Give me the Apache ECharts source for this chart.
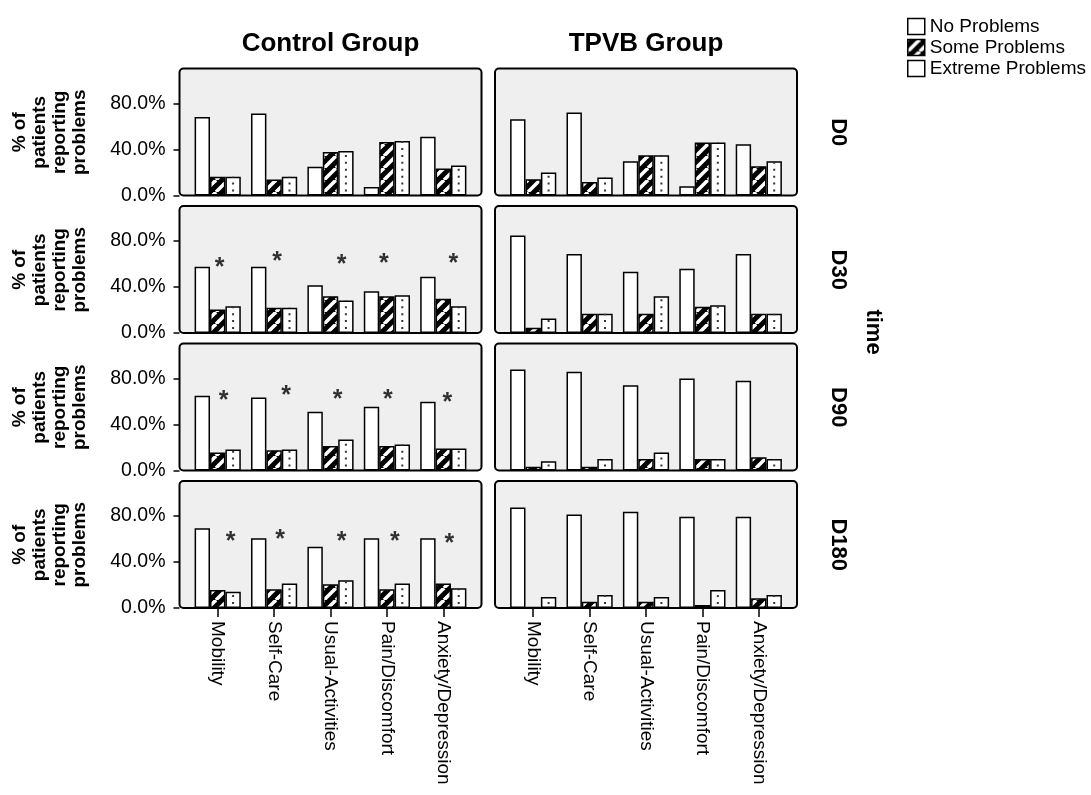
<!DOCTYPE html>
<html lang="en">
<head>
    <meta charset="utf-8" />
    <title>EQ-5D problems by group</title>
    <script type="text/javascript" src="https://cdn.jsdelivr.net/npm/echarts@6/dist/echarts.min.js"></script>
</head>
<body style="margin:0;background-color:#fff">
    <div id="container" style="width:1091px;height:795px;"></div>
</body>
</html>
<script type="text/javascript">
    var dom = document.getElementById("container");
    var myChart = echarts.init(dom);
    var option = null;

    var categories = ['Mobility', 'Self-Care', 'Usual-Activities', 'Pain/Discomfort', 'Anxiety/Depression'];
    var timePoints = ['D0', 'D30', 'D90', 'D180'];
    var groups = ['Control Group', 'TPVB Group'];
    var levels = ['No Problems', 'Some Problems', 'Extreme Problems'];
    var yTicks = [0, 40, 80];

    // one row per time point (D0, D30, D90, D180), % of patients
    var controlNo = [
        [68.3, 71.3, 24.9, 7.5, 51.0],
        [57.6, 57.6, 41.6, 36.4, 48.9],
        [64.9, 63.5, 51.0, 55.4, 59.7],
        [69.3, 60.6, 53.3, 60.6, 60.6]
    ];
    var controlSome = [
        [16.2, 13.9, 37.9, 46.6, 23.5],
        [20.4, 21.9, 32.0, 32.0, 29.7],
        [15.7, 17.7, 21.2, 21.2, 19.1],
        [15.7, 16.2, 20.6, 16.2, 21.2]
    ];
    var controlExtreme = [
        [16.2, 16.2, 38.8, 47.5, 26.0],
        [23.3, 21.9, 28.3, 32.9, 23.3],
        [18.3, 18.3, 27.0, 22.6, 19.1],
        [14.2, 21.2, 24.1, 21.2, 17.1]
    ];
    var tpvbNo = [
        [66.3, 72.2, 29.8, 8.0, 44.6],
        [84.8, 68.8, 53.2, 55.8, 68.8],
        [87.8, 85.8, 74.2, 80.0, 78.0],
        [87.5, 81.4, 83.8, 79.4, 79.4]
    ];
    var tpvbSome = [
        [14.2, 11.8, 35.0, 46.0, 25.5],
        [4.5, 16.7, 16.7, 22.8, 16.7],
        [3.2, 3.2, 9.9, 9.9, 11.6],
        [0.8, 5.5, 5.5, 2.6, 8.4]
    ];
    var tpvbExtreme = [
        [20.0, 15.6, 35.0, 46.0, 29.8],
        [12.6, 16.7, 32.0, 24.2, 16.7],
        [8.1, 9.9, 15.7, 9.9, 9.9],
        [9.6, 11.3, 9.6, 15.7, 11.3]
    ];
    // significance stars (control group only), height in %
    var starHeight = [
        null,
        [62, 67, 64, 65, 65],
        [65.5, 70, 66, 66, 63.5],
        [62.6, 64, 62.6, 62.6, 61]
    ];

    // layout
    var FONT = '"Liberation Sans", Arial, sans-serif';
    var frameLeft = [179.5, 495], frameWidth = 302, inset = 10;
    var zeroY = [195.5, 333, 470.5, 608], plotHeight = 126.5, frameHeight = 127;
    var barW = 15.4;
    var starShift = [null, [2, 3, 11, -3, 10], [6, 12, 7, 1, 4], [13, 6, 11, 8, 6]];

    // diagonal white stripes on black
    function hatchPattern() {
        var c = document.createElement('canvas');
        c.width = 12; c.height = 12;
        var g = c.getContext('2d');
        g.fillStyle = '#000';
        g.fillRect(0, 0, 12, 12);
        g.strokeStyle = '#fff';
        g.lineWidth = 3.5;
        [-12, 0, 12].forEach(function (o) {
            g.beginPath();
            g.moveTo(o, 12);
            g.lineTo(o + 12, 0);
            g.stroke();
        });
        return c;
    }
    var hatch = { image: hatchPattern(), repeat: 'repeat' };

    var grids = [], xAxes = [], yAxes = [], series = [], graphics = [];
    var dataSets = [[controlNo, controlSome, controlExtreme], [tpvbNo, tpvbSome, tpvbExtreme]];

    timePoints.forEach(function (tp, r) {
        groups.forEach(function (gName, c) {
            var i = grids.length;
            var last = r === timePoints.length - 1;
            grids.push({
                left: frameLeft[c] + inset,
                width: frameWidth - 2 * inset,
                top: zeroY[r] - plotHeight,
                height: plotHeight
            });
            graphics.push({
                type: 'rect', z: 0, silent: true,
                shape: { x: frameLeft[c], y: zeroY[r] - frameHeight, width: frameWidth, height: frameHeight, r: 4 },
                style: { fill: '#efefef', stroke: '#000', lineWidth: 2 }
            });
            xAxes.push({
                type: 'category', gridIndex: i, data: categories,
                axisLine: { show: false },
                axisTick: { show: last, alignWithLabel: true, length: 9, lineStyle: { color: '#000', width: 1.5 } },
                axisLabel: { show: last, rotate: -90, margin: 13, fontSize: 19, color: '#000', fontFamily: FONT, interval: 0 },
                splitLine: { show: false }
            });
            yAxes.push({
                type: 'value', gridIndex: i, min: 0, max: 110,
                offset: inset,
                axisLine: { show: false },
                axisTick: { show: c === 0, length: 6, customValues: yTicks, lineStyle: { color: '#000', width: 1.5 } },
                axisLabel: {
                    show: c === 0, customValues: yTicks, margin: 14, fontSize: 19.5, color: '#000', fontFamily: FONT,
                    formatter: function (v) { return v.toFixed(1) + '%'; }
                },
                splitLine: { show: false }
            });
            var sets = dataSets[c];
            var fills = ['#fff', hatch, '#fff'];
            levels.forEach(function (lv, k) {
                series.push({
                    name: lv, type: 'bar', xAxisIndex: i, yAxisIndex: i,
                    data: sets[k][r], barWidth: barW, barGap: '0%',
                    itemStyle: { color: fills[k], borderColor: '#000', borderWidth: 1.5 },
                    silent: true
                });
            });
            // dotted fill of the extreme bars
            series.push({
                name: 'dots', type: 'pictorialBar', xAxisIndex: i, yAxisIndex: i,
                data: sets[2][r], barWidth: barW,
                symbol: 'rect', symbolSize: [2, 2], symbolRepeat: true, symbolMargin: 2.5, symbolClip: true,
                symbolOffset: [barW, -4], symbolPosition: 'start',
                itemStyle: { color: '#333' }, z: 3, silent: true
            });
            if (c === 0 && starHeight[r]) {
                series.push({
                    name: 'stars', type: 'scatter', xAxisIndex: i, yAxisIndex: i,
                    symbolSize: 0, silent: true, z: 4,
                    data: starHeight[r].map(function (h, k) {
                        return { value: [k, h], label: { offset: [starShift[r][k], 6] } };
                    }),
                    label: { show: true, position: 'inside', formatter: '*', fontSize: 25, fontWeight: 'bold', color: '#000', fontFamily: FONT }
                });
            }
            if (c === 0) {
                graphics.push({
                    type: 'text', x: 50, y: zeroY[r] - plotHeight / 2, rotation: Math.PI / 2,
                    style: {
                        text: '% of\npatients\nreporting\nproblems', fontSize: 19, fontWeight: 'bold', lineHeight: 20,
                        fontFamily: FONT, fill: '#000', align: 'center', verticalAlign: 'middle'
                    }
                });
            }
        });
        graphics.push({
            type: 'text', x: 838, y: zeroY[r] - plotHeight / 2, rotation: -Math.PI / 2,
            style: { text: tp, fontSize: 22, fontWeight: 'bold', fontFamily: FONT, fill: '#000', align: 'center', verticalAlign: 'middle' }
        });
    });

    groups.forEach(function (gName, c) {
        graphics.push({
            type: 'text', x: frameLeft[c] + frameWidth / 2, y: 44,
            style: { text: gName, fontSize: 26, fontWeight: 'bold', fontFamily: FONT, fill: '#000', align: 'center', verticalAlign: 'middle' }
        });
    });
    graphics.push({
        type: 'text', x: 873, y: 332, rotation: -Math.PI / 2,
        style: { text: 'time', fontSize: 22, fontWeight: 'bold', fontFamily: FONT, fill: '#000', align: 'center', verticalAlign: 'middle' }
    });

    option = {
        backgroundColor: '#fff',
        animation: false,
        textStyle: { fontFamily: FONT },
        legend: {
            data: levels,
            orient: 'vertical',
            left: 907,
            top: 17,
            padding: 0,
            itemWidth: 17,
            itemHeight: 16,
            itemGap: 2,
            icon: 'rect',
            selectedMode: false,
            textStyle: { fontSize: 19, color: '#000', fontFamily: FONT },
            itemStyle: { borderColor: '#000', borderWidth: 1.5 }
        },
        grid: grids,
        xAxis: xAxes,
        yAxis: yAxes,
        graphic: { elements: graphics },
        series: series
    };
    if (option && typeof option === "object") {
        myChart.setOption(option, true);
    }
</script>
